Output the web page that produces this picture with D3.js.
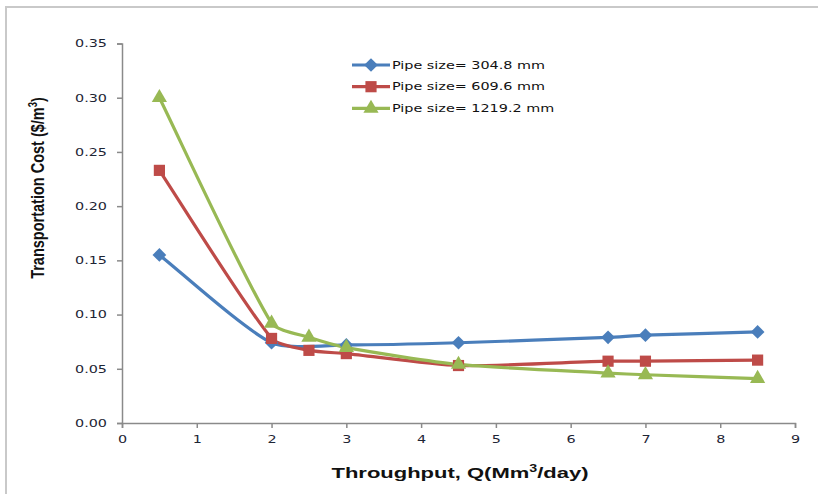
<!DOCTYPE html>
<html>
<head>
<meta charset="utf-8">
<script src="https://cdn.jsdelivr.net/npm/d3@7"></script>
<style>
  body { margin: 0; background: #fff; }
  svg text { font-family: "DejaVu Sans", Verdana, sans-serif; }
</style>
</head>
<body>
<div id="chart"></div>
<script>
// ---------- DATA ----------
const seriesNames = ["Pipe size= 304.8 mm", "Pipe size= 609.6 mm", "Pipe size= 1219.2 mm"];
const xBlue  = [0.5, 2, 3, 4.5, 6.5, 7, 8.5];
const yBlue  = [0.155, 0.074, 0.072, 0.074, 0.079, 0.081, 0.084];
const xRed   = [0.5, 2, 2.5, 3, 4.5, 6.5, 7, 8.5];
const yRed   = [0.233, 0.078, 0.067, 0.064, 0.053, 0.057, 0.057, 0.058];
const xGreen = [0.5, 2, 2.5, 3, 4.5, 6.5, 7, 8.5];
const yGreen = [0.300, 0.092, 0.079, 0.0695, 0.054, 0.046, 0.0445, 0.041];
const xTicks = [0, 1, 2, 3, 4, 5, 6, 7, 8, 9];
const yTicks = [0, 0.05, 0.10, 0.15, 0.20, 0.25, 0.30, 0.35];

const colors = ["#4A7EBB", "#BE4B48", "#98B954"];
const symbols = [d3.symbolDiamond2 || d3.symbolDiamond, d3.symbolSquare, d3.symbolTriangle];
const symSize = [120, 125, 100];
const SX = 1.37; // text looks stretched sideways in the picture

const series = [
  xBlue.map((x, i) => ({x: x, y: yBlue[i]})),
  xRed.map((x, i) => ({x: x, y: yRed[i]})),
  xGreen.map((x, i) => ({x: x, y: yGreen[i]}))
];

// ---------- SVG ----------
const W = 818, H = 494;
const svg = d3.select("#chart").append("svg").attr("width", W).attr("height", H);

// frame
svg.append("path").attr("d", "M6,494 V7 H818")
  .attr("fill", "none").attr("stroke", "#c9c9c9").attr("stroke-width", 2);

const x = d3.scaleLinear().domain([0, 9]).range([122, 795]);
const y = d3.scaleLinear().domain([0, 0.35]).range([423, 43.5]);

// axes
const gx = svg.append("g").attr("transform", "translate(0,423)")
  .call(d3.axisBottom(x).tickValues(xTicks).tickFormat(d3.format("d")).tickSizeInner(5).tickSizeOuter(5));
const gy = svg.append("g").attr("transform", "translate(122,0)")
  .call(d3.axisLeft(y).tickValues(yTicks).tickFormat(d3.format(".2f")).tickSizeInner(5).tickSizeOuter(5));

[gx, gy].forEach(g => {
  g.select(".domain").attr("stroke", "#8a8a8a").attr("stroke-width", 1.5);
  g.selectAll(".tick line").attr("stroke", "#8a8a8a").attr("stroke-width", 1.5);
  g.selectAll(".tick text").attr("fill", "#1e2535").attr("font-size", 10.5)
    .attr("font-family", "DejaVu Sans, Verdana, sans-serif")
    .attr("transform", "scale(" + SX + ",1)");
});
gx.selectAll(".tick text").attr("y", 13).attr("dy", "0.71em");
gy.selectAll(".tick text").attr("x", -15 / SX);

// smoothed line like a spreadsheet "smooth line": bezier segments,
// tangent split by neighbouring chord lengths so short steps don't overshoot
function smoothPath(s) {
  const p = s.map(d => [x(d.x), y(d.y)]);
  const n = p.length;
  const dist = (a, b) => Math.hypot(b[0] - a[0], b[1] - a[1]);
  const outC = [], inC = [];
  for (let i = 0; i < n; i++) {
    if (i === 0) {
      outC[i] = [p[0][0] + (p[1][0] - p[0][0]) / 6, p[0][1] + (p[1][1] - p[0][1]) / 6];
    } else if (i === n - 1) {
      inC[i] = [p[i][0] - (p[i][0] - p[i - 1][0]) / 6, p[i][1] - (p[i][1] - p[i - 1][1]) / 6];
    } else {
      const tx = p[i + 1][0] - p[i - 1][0], ty = p[i + 1][1] - p[i - 1][1];
      const d0 = dist(p[i - 1], p[i]), d1 = dist(p[i], p[i + 1]);
      const f0 = d0 / (d0 + d1) / 4.5, f1 = d1 / (d0 + d1) / 4.5;
      inC[i] = [p[i][0] - tx * f0, p[i][1] - ty * f0];
      outC[i] = [p[i][0] + tx * f1, p[i][1] + ty * f1];
    }
  }
  const path = d3.path();
  path.moveTo(p[0][0], p[0][1]);
  for (let i = 1; i < n; i++) {
    path.bezierCurveTo(outC[i - 1][0], outC[i - 1][1], inC[i][0], inC[i][1], p[i][0], p[i][1]);
  }
  return path.toString();
}

series.forEach((s, i) => {
  svg.append("path").attr("d", smoothPath(s))
    .attr("fill", "none").attr("stroke", colors[i]).attr("stroke-width", 3.2)
    .attr("stroke-linejoin", "round");
});
series.forEach((s, i) => {
  svg.selectAll(".m" + i).data(s).enter().append("path")
    .attr("class", "m" + i)
    .attr("transform", d => "translate(" + x(d.x) + "," + y(d.y) + ")")
    .attr("d", d3.symbol().type(symbols[i]).size(symSize[i]))
    .attr("fill", colors[i]);
});

// legend
const leg = svg.append("g").attr("transform", "translate(352,65)");
seriesNames.forEach((n, i) => {
  const g = leg.append("g").attr("transform", "translate(0," + i * 21.7 + ")");
  g.append("line").attr("x1", 0).attr("x2", 38).attr("stroke", colors[i]).attr("stroke-width", 3.2);
  g.append("path").attr("transform", "translate(19,0)")
    .attr("d", d3.symbol().type(symbols[i]).size(symSize[i])).attr("fill", colors[i]);
  g.append("text").attr("transform", "translate(40,0) scale(" + SX + ",1)")
    .attr("dy", "0.36em").attr("font-size", 10.5)
    .attr("fill", "#111").text(n);
});

// axis titles
const xt = svg.append("text").attr("transform", "translate(460,478) scale(1.42,1)").attr("text-anchor", "middle")
  .style("font-family", "Liberation Sans, Arial, sans-serif")
  .attr("font-weight", "bold").attr("font-size", 15.5).attr("fill", "#111");
xt.append("tspan").text("Throughput, Q(Mm");
xt.append("tspan").attr("font-size", 10).attr("dy", -6).text("3");
xt.append("tspan").attr("dy", 6).text("/day)");

const yt = svg.append("text").attr("transform", "translate(44,188) rotate(-90) scale(1,1.25)").attr("text-anchor", "middle")
  .style("font-family", "Liberation Sans, Arial, sans-serif")
  .attr("font-weight", "bold").attr("font-size", 14.5).attr("fill", "#111");
yt.append("tspan").text("Transportation Cost ($/m");
yt.append("tspan").attr("font-size", 9.5).attr("dy", -6).text("3");
yt.append("tspan").attr("dy", 6).text(")");
</script>
</body>
</html>
